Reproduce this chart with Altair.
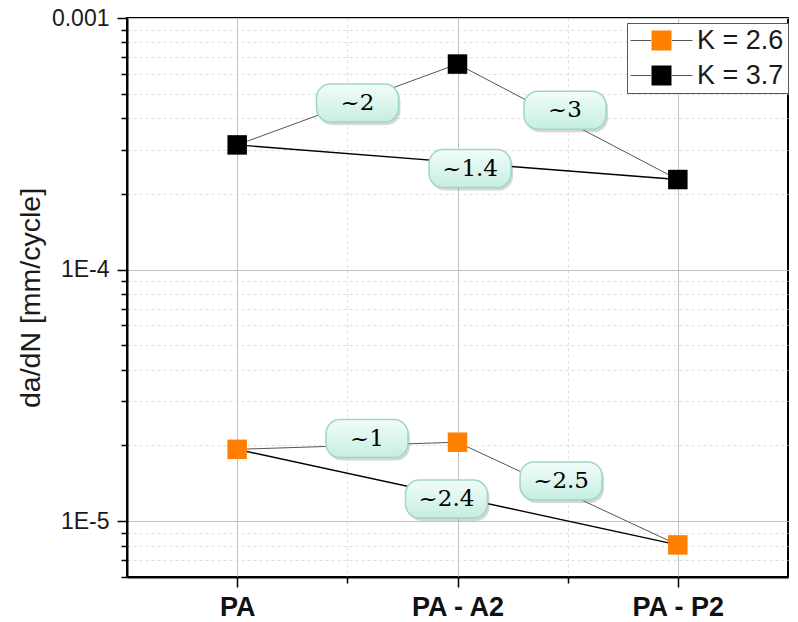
import altair as alt
import pandas as pd

# ---------------- data ----------------
categories = ["PA", "PA - A2", "PA - P2"]
k_values = ["2.6", "3.7"]
series_names = ["K = 2.6", "K = 3.7"]
series_colors = ["#ff8000", "#000000"]
k26_values = [1.93e-5, 2.06e-5, 8.05e-6]
k37_values = [3.13e-4, 6.56e-4, 2.28e-4]

# ratio annotations
ratio_texts = ["~2", "~3", "~1.4", "~1", "~2.5", "~2.4"]
ratio_k = ["3.7", "3.7", "3.7", "2.6", "2.6", "2.6"]
ratio_from = [0, 1, 0, 0, 1, 0]
ratio_to = [1, 2, 2, 1, 2, 2]
label_x = [1.546, 2.488, 2.057, 1.589, 2.470, 1.950]
label_y = [4.59e-4, 4.30e-4, 2.52e-4, 2.13e-5, 1.445e-5, 1.225e-5]

y_major = [1e-3, 1e-4, 1e-5]
y_major_labels = ["0.001", "1E-4", "1E-5"]
y_minor = [9e-4, 8e-4, 7e-4, 6e-4, 5e-4, 4e-4, 3e-4, 2e-4,
           9e-5, 8e-5, 7e-5, 6e-5, 5e-5, 4e-5, 3e-5, 2e-5,
           9e-6, 8e-6, 7e-6, 6e-6]
x_major = [1, 2, 3]
x_minor = [1.5, 2.5]

# ---------------- tables ----------------
series_values = {"2.6": k26_values, "3.7": k37_values}
pts = pd.DataFrame({
    "x": x_major * 2,
    "y": k26_values + k37_values,
    "series": [series_names[0]] * 3 + [series_names[1]] * 3,
})
seg = pd.DataFrame({
    "x": [x_major[f] for f in ratio_from],
    "x2": [x_major[t] for t in ratio_to],
    "y": [series_values[s][f] for s, f in zip(ratio_k, ratio_from)],
    "y2": [series_values[s][t] for s, t in zip(ratio_k, ratio_to)],
    "K": ratio_k,
    "span": [t - f for f, t in zip(ratio_from, ratio_to)],
})
labels = pd.DataFrame({"x": label_x, "y": label_y, "text": ratio_texts})

# ---------------- scales / axes ----------------
xscale = alt.Scale(domain=[0.5, 3.5], nice=False, zero=False)
yscale = alt.Scale(type="log", domain=[6e-6, 1e-3], nice=False)

x_label_expr = " : ".join(
    f"datum.value == {v} ? '{c}'" for v, c in zip(x_major, categories)) + " : ''"
x_major_test = "datum.value % 1 == 0"
x_axis = alt.Axis(
    values=sorted(x_major + x_minor), labelExpr=x_label_expr, labelFlush=False,
    labelFont="Liberation Sans", labelFontSize=27, labelFontWeight="bold",
    labelColor="#111111", labelPadding=7, labelOverlap=False,
    tickSize={"condition": {"test": x_major_test, "value": 10}, "value": 6},
    grid=True,
    gridColor={"condition": {"test": x_major_test, "value": "#c2c2c2"}, "value": "#dedede"},
    gridDash={"condition": {"test": x_major_test, "value": []}, "value": [3, 3]},
    title=None,
)

y_test = "abs(log(datum.value)/LN10 - round(log(datum.value)/LN10)) < 0.001"
y_label_expr = " : ".join(
    f"abs(log(datum.value) - log({v})) < 0.001 ? '{l}'"
    for v, l in zip(y_major, y_major_labels)) + " : ''"
y_axis = alt.Axis(
    values=y_major + y_minor, labelExpr=y_label_expr, labelOverlap=False,
    labelFont="Liberation Sans", labelFontSize=23, labelColor="#1a1a1a",
    labelPadding=8, labelFlush=False,
    tickSize={"condition": {"test": y_test, "value": 10}, "value": 6},
    grid=True,
    gridColor={"condition": {"test": y_test, "value": "#c2c2c2"}, "value": "#dedede"},
    gridDash={"condition": {"test": y_test, "value": []}, "value": [3, 3]},
    title="da/dN [mm/cycle]", titleFont="Liberation Sans", titleFontSize=28.5,
    titleFontWeight="normal", titleColor="#1a1a1a", titlePadding=6,
)


def X(field):
    return alt.X(f"{field}:Q", scale=xscale, axis=x_axis)


def Y(field):
    return alt.Y(f"{field}:Q", scale=yscale, axis=y_axis)


LEG = dict(orient="none", legendX=500, legendY=5, title=None, symbolSize=400,
           labelFont="Liberation Sans", labelFontSize=27, padding=4, rowPadding=7,
           symbolOffset=17, labelOffset=22)

# ---------------- layers ----------------
grey_rules = alt.Chart(seg).transform_filter("datum.span == 1").mark_rule(
    strokeWidth=1).encode(
    x=X("x"), x2="x2", y=Y("y"), y2="y2",
    stroke=alt.Stroke("K:N", scale=alt.Scale(domain=k_values, range=["#555555", "#555555"]),
                      legend=alt.Legend(symbolType="M-3.1,0H-1.05M1.05,0H3.1",
                                        symbolStrokeWidth=1, labelColor="#1a1a1a",
                                        labelExpr="'K = ' + datum.label",
                                        zindex=2, **LEG)),
)
black_rules = alt.Chart(seg).transform_filter("datum.span == 2").mark_rule(
    strokeWidth=1.4, color="#000000").encode(
    x=X("x"), x2="x2", y=Y("y"), y2="y2",
)

r = 0.737
k = 0.407
hw = 2.158
BOX = (f"M{-hw + r},-1H{hw - r}C{hw - r + k},-1 {hw},{-1 + r - k} {hw},{-1 + r}"
       f"V{1 - r}C{hw},{1 - r + k} {hw - r + k},1 {hw - r},1"
       f"H{-hw + r}C{-hw + r - k},1 {-hw},{1 - r + k} {-hw},{1 - r}"
       f"V{-1 + r}C{-hw},{-1 + r - k} {-hw + r - k},-1 {-hw + r},-1Z")

box_fill = alt.LinearGradient(
    gradient="linear", x1=0, y1=0, x2=0, y2=1,
    stops=[alt.GradientStop(offset=0, color="#f1fcf9"),
           alt.GradientStop(offset=0.5, color="#dcf6ee"),
           alt.GradientStop(offset=1, color="#c6ede1")],
)

shadow = alt.Chart(labels).mark_point(
    shape=BOX, size=1444, filled=True, fill="#7a7a7a", opacity=0.3,
    strokeWidth=0, xOffset=2, yOffset=3).encode(x=X("x"), y=Y("y"))
boxes = alt.Chart(labels).mark_point(
    shape=BOX, size=1444, filled=True, fill=box_fill, stroke="#9fd6c4",
    strokeWidth=1.5, opacity=1).encode(x=X("x"), y=Y("y"))
texts = alt.Chart(labels).mark_text(
    font="DejaVu Serif", fontSize=23, color="#000000").encode(
    x=X("x"), y=Y("y"), text="text:N")

points = alt.Chart(pts).mark_point(
    shape="square", size=380, filled=True, opacity=1, strokeWidth=0).encode(
    x=X("x"), y=Y("y"),
    fill=alt.Fill("series:N", scale=alt.Scale(domain=series_names, range=series_colors),
                  legend=alt.Legend(symbolType="square", labelColor="transparent",
                                    fillColor="white", strokeColor="#555555",
                                    zindex=1, **LEG)),
)

chart = alt.layer(grey_rules, black_rules, shadow, boxes, texts, points).properties(
    width=661, height=559,
    autosize=alt.AutoSizeParams(type="none"),
    padding={"left": 127, "top": 18, "right": 10, "bottom": 45},
).configure_view(stroke="#000000", strokeWidth=2).configure_axis(
    domainColor="#000000", domainWidth=2, tickColor="#000000", tickWidth=1.5,
)

chart.save("out.html", embed_options={"renderer": "svg", "actions": False})
